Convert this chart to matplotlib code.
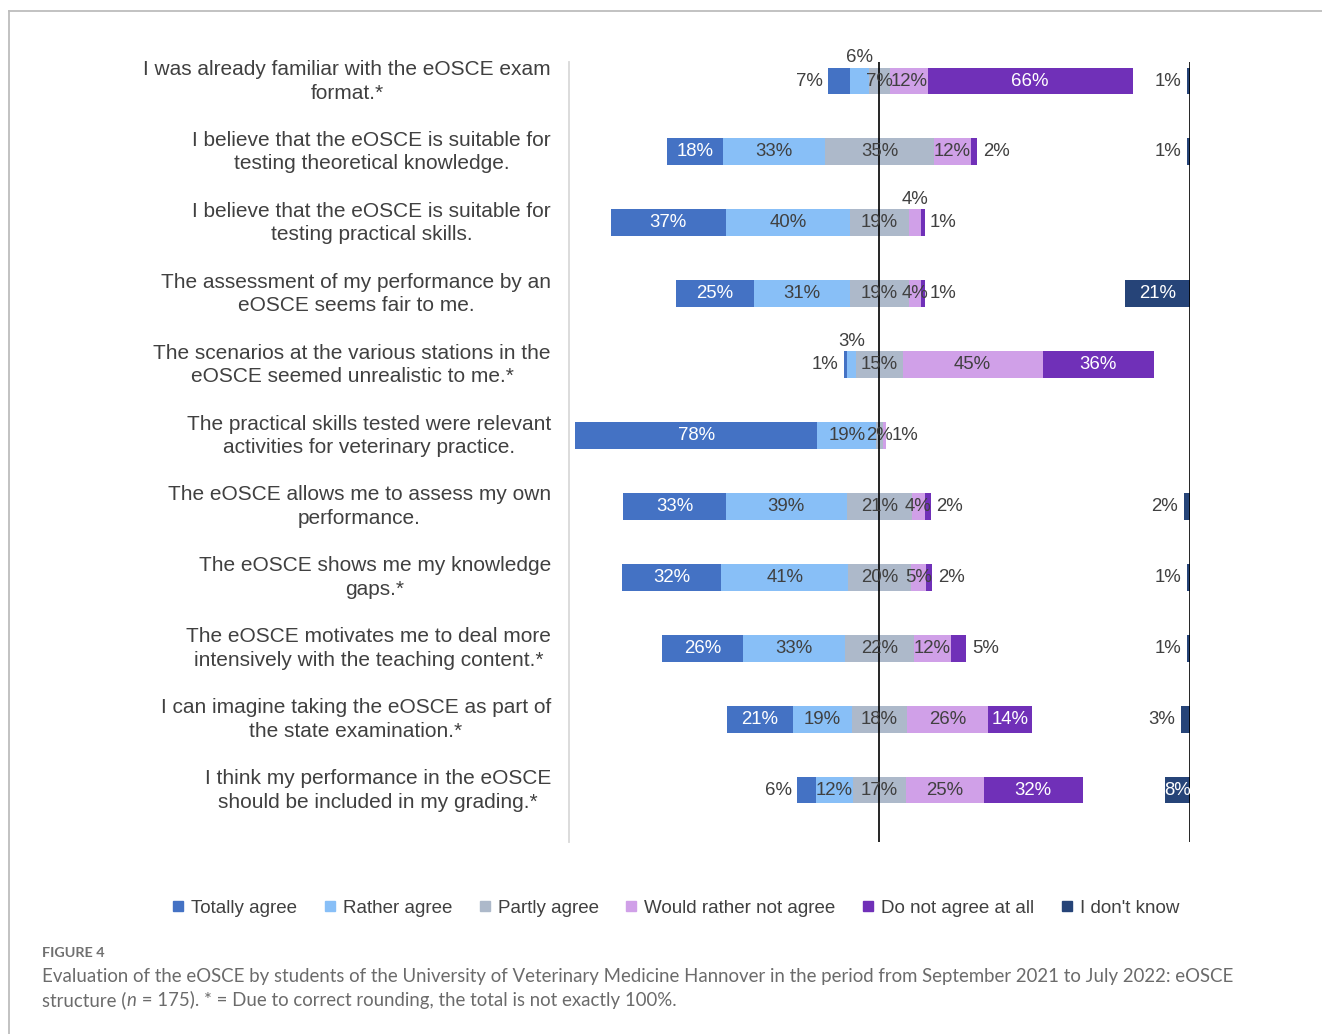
import matplotlib
matplotlib.use("Agg")
import matplotlib.pyplot as plt
from matplotlib.lines import Line2D
import matplotlib.transforms as mtrans
import numpy as np

# ---------------- data ----------------
statements = [
    "I was already familiar with the eOSCE exam\nformat.*",
    "I believe that the eOSCE is suitable for\ntesting theoretical knowledge.",
    "I believe that the eOSCE is suitable for\ntesting practical skills.",
    "The assessment of my performance by an\neOSCE seems fair to me.",
    "The scenarios at the various stations in the\neOSCE seemed unrealistic to me.*",
    "The practical skills tested were relevant\nactivities for veterinary practice.",
    "The eOSCE allows me to assess my own\nperformance.",
    "The eOSCE shows me my knowledge\ngaps.*",
    "The eOSCE motivates me to deal more\nintensively with the teaching content.*",
    "I can imagine taking the eOSCE as part of\nthe state examination.*",
    "I think my performance in the eOSCE\nshould be included in my grading.*",
]
series_names = ["Totally agree", "Rather agree", "Partly agree",
                "Would rather not agree", "Do not agree at all", "I don't know"]
totally_agree = [7, 18, 37, 25, 1, 78, 33, 32, 26, 21, 6]
rather_agree = [6, 33, 40, 31, 3, 19, 39, 41, 33, 19, 12]
partly_agree = [7, 35, 19, 19, 15, 2, 21, 20, 22, 18, 17]
rather_not_agree = [12, 12, 4, 4, 45, 1, 4, 5, 12, 26, 25]
not_agree_at_all = [66, 2, 1, 1, 36, 0, 2, 2, 5, 14, 32]
dont_know = [1, 1, 0, 21, 0, 0, 2, 1, 1, 3, 8]

# ---------------- style ----------------
colors = ["#4472C4", "#88BFF7", "#ADB9CA", "#D0A0E8", "#7030B8", "#264478"]
text_on = ["white", "#404040", "#404040", "#404040", "white", "white"]
# label placement overrides: (row, series) -> mode
placement = {
    (0, 0): "left", (0, 1): "above", (0, 5): "left",
    (1, 4): "right", (1, 5): "left",
    (2, 3): "above", (2, 4): "right",
    (3, 4): "right",
    (4, 0): "left", (4, 1): "above",
    (5, 3): "right",
    (6, 4): "right", (6, 5): "left",
    (7, 4): "right", (7, 5): "left",
    (8, 4): "right", (8, 5): "left",
    (9, 5): "left",
    (10, 0): "left",
}

W, H = 1322, 1034
fig = plt.figure(figsize=(W / 100, H / 100), dpi=100)
fig.patch.set_facecolor("white")

ax_left, ax_right, ax_top, ax_bot = 569, 1190, 62, 842
ax = fig.add_axes([ax_left / W, 1 - ax_bot / H, (ax_right - ax_left) / W, (ax_bot - ax_top) / H])

n = len(statements)
y = np.arange(n)
bar_h = 0.38
base_font = "Liberation Sans"
lab_family = ["Liberation Sans Narrow", "Liberation Sans"]
lab_size = 13.4
gray_txt = "#404040"

vals = np.array([totally_agree, rather_agree, partly_agree,
                 rather_not_agree, not_agree_at_all], dtype=float)
lefts = -(vals[0] + vals[1] + vals[2] / 2.0)
cum = lefts.copy()
seg_info = []
for k in range(5):
    ax.barh(y, vals[k], left=cum, height=bar_h, color=colors[k], edgecolor="none", zorder=2)
    seg_info.append((cum.copy(), vals[k].copy()))
    cum = cum + vals[k]
dk = np.array(dont_know, dtype=float)
ax.barh(y, dk, left=100 - dk, height=bar_h, color=colors[5], edgecolor="none", zorder=2)
seg_info.append((100 - dk, dk))

gap = 1.8
for k in range(6):
    starts, widths = seg_info[k]
    for i in range(n):
        v = widths[i]
        if v <= 0:
            continue
        s = f"{int(v)}%"
        mode = placement.get((i, k), "in")
        if mode == "in":
            ax.text(starts[i] + v / 2, y[i], s, ha="center", va="center",
                    color=text_on[k], fontsize=lab_size, family=lab_family, zorder=4)
        elif mode == "left":
            ax.text(starts[i] - gap, y[i], s, ha="right", va="center",
                    color=gray_txt, fontsize=lab_size, family=lab_family, zorder=4)
        elif mode == "right":
            ax.text(starts[i] + v + gap, y[i], s, ha="left", va="center",
                    color=gray_txt, fontsize=lab_size, family=lab_family, zorder=4)
        elif mode == "above":
            ax.text(starts[i] + v / 2, y[i] - bar_h / 2 - 0.02, s, ha="center", va="bottom",
                    color=gray_txt, fontsize=lab_size, family=lab_family, zorder=4)

ax.axvline(0, color="black", lw=1.2, zorder=3)
ax.axvline(100, color="black", lw=1.2, zorder=3)

ax.set_xlim(-100, 100)
ax.set_ylim(10.733, -0.268)
for sp in ["top", "right", "bottom"]:
    ax.spines[sp].set_visible(False)
ax.spines["left"].set_color("#D9D9D9")
ax.spines["left"].set_linewidth(1.3)
ax.set_xticks([])
ax.set_yticks(y)
ax.set_yticklabels(statements, fontsize=15.0, family=base_font, color=gray_txt,
                   multialignment="center", linespacing=1.3)
ax.tick_params(axis="y", length=0, pad=13)
shift = mtrans.ScaledTranslation(0, 4 / 100, fig.dpi_scale_trans)
for lbl in ax.get_yticklabels():
    lbl.set_transform(lbl.get_transform() + shift)

# legend
handles = [Line2D([0], [0], marker="s", linestyle="none", markersize=7,
                  markerfacecolor=c, markeredgecolor=c) for c in colors]
leg = fig.legend(handles, series_names, loc="center", ncol=6,
                 bbox_to_anchor=(675 / W, 1 - 908 / H), frameon=False,
                 prop={"family": base_font, "size": 13.5},
                 handletextpad=0.3, columnspacing=1.33, handlelength=0.8)
for t in leg.get_texts():
    t.set_color(gray_txt)

# frame lines
fig.add_artist(Line2D([9 / W, 9 / W], [0, 1 - 11 / H], transform=fig.transFigure,
                      color="#BDBDBD", lw=1.3))
fig.add_artist(Line2D([9 / W, 1], [1 - 11 / H, 1 - 11 / H], transform=fig.transFigure,
                      color="#BDBDBD", lw=1.3))

# caption
cap_font = "Lato"
cap_col = "#6B6B6B"
cap_size = 13.45
fig.text(42 / W, 1 - 957 / H, "FIGURE 4", family=cap_font, fontsize=10.4,
         fontweight="bold", color="#707070", va="baseline", ha="left")
fig.text(42 / W, 1 - 982 / H,
         "Evaluation of the eOSCE by students of the University of Veterinary Medicine "
         "Hannover in the period from September 2021 to July 2022: eOSCE",
         family=cap_font, fontsize=cap_size, color=cap_col, va="baseline", ha="left")
fig.canvas.draw()
renderer = fig.canvas.get_renderer()
xpos = 42
ybase = 1 - 1006 / H
parts = [("structure (", "normal"), ("n", "italic"),
         (" = 175). * = Due to correct rounding, the total is not exactly 100%.", "normal")]
for txt, style in parts:
    t = fig.text(xpos / W, ybase, txt, family=cap_font, fontsize=cap_size, color=cap_col,
                 style=style, va="baseline", ha="left")
    bb = t.get_window_extent(renderer=renderer)
    xpos = bb.x1 + (1 if style == "italic" else 0)

fig.savefig("out.png", dpi=100, facecolor="white")
